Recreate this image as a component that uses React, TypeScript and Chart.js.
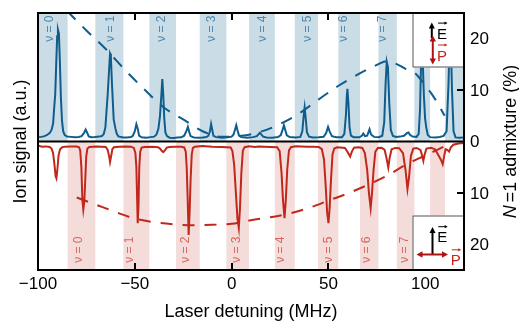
import React, { useEffect, useRef } from 'react';
import { Chart, registerables } from 'chart.js';

Chart.register(...registerables);

// ---------- data ----------
const xTicks = [-100, -50, 0, 50, 100];
const admTicks = [20, 10, 0, -10, -20];
// alternating band edges: even index -> blue band (top), odd -> pink band (bottom)
const bandEdges = [-100, -84.7, -70.4, -55.9, -42.5, -28.7, -16.5, -2.7, 9, 22.3, 32.6, 44.6, 55.1, 66.3, 75.8, 85.3, 94.4, 102.5, 110.2, 120];
const nuLabels = ['ν = 0', 'ν = 1', 'ν = 2', 'ν = 3', 'ν = 4', 'ν = 5', 'ν = 6', 'ν = 7'];
const topLabelX = [-93.8, -62.3, -36, -10.5, 16.2, 39.5, 58.1, 78.2];
const botLabelX = [-79, -52.5, -23.9, 2.4, 25.4, 50, 69.8, 89.6];

const topSpecX = [-100, -98.5, -97, -95.5, -94, -93, -92.2, -91.6, -91.1, -90.6, -90.1, -89.7, -89.2, -88.7, -88.2, -87.6, -87, -86.2, -85, -83, -81, -79, -77.5, -76.3, -75.4, -74.6, -73.8, -72.5, -70.5, -68.5, -67, -66, -65.2, -64.0, -62.8, -62.4, -61.8, -60.9, -60.0, -59.3, -58.5, -56, -54, -52, -51, -50, -49.2, -48.5, -47.8, -46.5, -44, -42, -40, -38.8, -37.8, -37, -36.3, -35.8, -35.3, -34.8, -34.2, -33.4, -32, -30, -28, -26, -24.5, -23.4, -22.6, -21.9, -21.2, -19.5, -17, -15, -13, -12, -11.2, -10.6, -10, -9.4, -8, -5, -2, 0, 1, 1.8, 2.4, 3.0, 3.8, 5, 8, 11, 13, 14, 14.6, 15.3, 16.3, 18, 21, 24, 25.4, 26.3, 27, 27.7, 28.5, 30, 33, 35.5, 36.5, 37.2, 37.7, 38.2, 38.9, 40, 42, 45, 47.5, 48.8, 49.8, 50.7, 51.8, 54, 57, 58.2, 59, 59.5, 59.8, 60.3, 60.9, 61.6, 63, 66, 67.2, 68, 68.9, 70, 71.2, 72, 73.5, 76, 77.8, 78.8, 79.5, 80.1, 80.7, 81.4, 82.2, 83.3, 85, 87, 89, 90.5, 91.3, 92.2, 93.5, 95.5, 96.6, 97.3, 97.8, 98.2, 98.7, 99.3, 99.9, 100.5, 101.3, 102.5, 105, 107.5, 109.5, 111, 112, 112.6, 113.2, 113.8, 114.6, 115.6, 117.5, 120];
const topSpecY = [3.4, 3.6, 4.0, 4.9, 6.5, 9.0, 14, 27, 37, 60, 82, 87, 84, 62, 35, 16, 8, 5, 3.8, 3.6, 3.3, 3.5, 4.2, 6.5, 9.3, 6.8, 4.0, 3.3, 3.5, 3.8, 4.2, 6.0, 11, 37, 68.5, 67, 45, 17, 10, 6, 4, 3.2, 3.1, 3.5, 4.5, 8, 13.5, 10, 4.5, 3.3, 3.0, 3.4, 3.8, 5.5, 10, 20, 36, 48.5, 36, 18, 7, 4.2, 3.0, 2.8, 3.1, 3.3, 4.5, 8, 11.4, 7.5, 4.2, 3.2, 3.0, 3.2, 3.5, 4.5, 8, 13.5, 9, 4.4, 3.4, 3.0, 3.3, 3.8, 5.5, 9.5, 12.7, 9, 4.6, 3.4, 3.0, 3.4, 4.2, 5.8, 6.8, 5.5, 3.8, 3.2, 3.0, 3.5, 5, 9, 12.7, 9, 4.8, 3.5, 3.2, 3.6, 8, 20, 26.5, 19, 7, 3.8, 3.1, 3.3, 3.7, 6.5, 11.4, 7.5, 4.2, 3.4, 3.3, 6, 20, 36, 41, 30, 11, 4.5, 3.4, 3.3, 4.5, 6.2, 4.2, 4.5, 9.5, 5.5, 3.6, 3.3, 4.5, 15, 45, 62, 58, 30, 9, 4.3, 3.5, 3.8, 4.5, 6.5, 7, 5, 3.8, 3.6, 6, 25, 60, 76, 62, 35, 18, 11, 5, 3.4, 3.2, 3.5, 4.4, 8, 45, 80, 78, 40, 8, 3.2, 3.0, 3.1];

const botSpecX = [-100, -98, -96, -94, -93, -92.2, -91.5, -90.9, -90.5, -90, -89.4, -88.6, -87.5, -86, -83, -80, -78.8, -78.2, -77.6, -77.1, -76.6, -76.1, -75.6, -75.1, -74.5, -73.5, -70, -67, -65, -64, -63.2, -62.8, -62.3, -61.6, -60.8, -58, -55, -52, -50.5, -49.7, -49.2, -48.8, -48.5, -48.1, -47.7, -47.2, -46.5, -45, -41, -38, -37, -36, -35.3, -34.5, -33.5, -32, -29, -26, -24.5, -23.7, -23.2, -22.7, -22.2, -21.7, -21.2, -20.6, -20, -19, -15, -10, -5, -0.5, 0.4, 1.3, 2.2, 3.0, 3.7, 4.3, 5.0, 5.8, 6.7, 9, 12, 14, 17, 20, 23.5, 24.8, 25.8, 26.5, 27.3, 28.0, 28.7, 29.6, 30.6, 33, 36, 39, 42, 45, 46.6, 47.7, 48.6, 49.3, 50, 50.6, 51.3, 52.1, 53, 54.5, 56, 58.5, 59.8, 61.2, 62.2, 63.2, 65.5, 67.5, 68.8, 70, 70.9, 71.8, 72.5, 73.3, 74.2, 75.5, 77.5, 79, 80, 80.9, 81.7, 82.6, 84.5, 86.5, 88.5, 89.8, 90.8, 91.6, 92.6, 93.8, 95.5, 97.5, 98.4, 99, 99.7, 100.6, 103, 105, 106.5, 108, 109, 109.8, 110.5, 111.3, 112.3, 113.2, 114.5, 117, 120];
const botSpecY = [-3.1, -4.0, -3.8, -4.3, -5.5, -9, -18, -27, -28.6, -22, -11, -6, -4.5, -4.0, -3.9, -3.9, -4.5, -7, -20, -45, -53, -47, -30, -12, -5.5, -4.2, -3.9, -4.0, -4.3, -6.5, -12, -16, -12, -6, -4.5, -4.0, -3.9, -4.0, -5, -9, -20, -45, -63.6, -50, -20, -8, -4.8, -4.2, -4.0, -4.5, -5.5, -7.5, -8.3, -7, -4.8, -4.2, -4.0, -4.1, -4.6, -8, -20, -45, -72.7, -55, -30, -10, -5, -4.0, -3.6, -4.0, -4.2, -4.6, -7.5, -18, -40, -60, -67.3, -52, -25, -7, -4.4, -3.7, -4.3, -3.9, -4.0, -4.2, -4.5, -7.5, -25, -45, -59.7, -45, -22, -7, -4.4, -3.7, -3.8, -4.1, -4.0, -4.3, -6, -14, -35, -55, -63.6, -52, -30, -10, -5.5, -4.5, -4.6, -5, -8, -11.7, -7.5, -4.8, -4.4, -5, -9, -22, -40, -51.9, -40, -22, -8, -5, -4.8, -6.5, -13, -20.2, -12, -6, -5, -5.2, -9, -22, -36.9, -28, -11, -5.5, -5, -6.5, -11, -15.1, -10, -5.5, -4.8, -6, -10, -14, -17.7, -11, -6, -6.5, -7.8, -4.5, -2.5, -1.6, -1.2];

const admTopX = [-85, -75, -65, -55, -45, -35, -25, -15, -5, 5, 15, 25, 35, 45, 55, 65, 75, 80, 85, 90, 95, 100, 105, 110];
const admTopY = [25.4, 21.6, 18, 13.9, 10.1, 6.6, 4.3, 2.0, 0.9, 1.1, 1.9, 3.4, 5.5, 8.2, 10.8, 13.0, 14.9, 15.6, 15.1, 14.1, 13.2, 10.9, 8.3, 5.0];
const admBotX = [-80, -70, -60, -50, -40, -30, -20, -10, 0, 10, 20, 30, 40, 50, 60, 70, 80, 90, 100, 110, 114];
const admBotY = [-10.9, -12.3, -13.7, -15.0, -15.7, -16.1, -16.3, -16.2, -16.0, -15.3, -14.75, -14.0, -12.9, -11.5, -10.1, -8.5, -6.7, -4.5, -2.7, -0.9, 0];

// ---------- styles ----------
const BLUE = '#0f5d8c';
const RED = '#c0281c';
const BLUE_BAND = '#cadde7';
const PINK_BAND = '#f4dcdb';
const BLUE_TEXT = '#4f86a9';
const RED_TEXT = '#d9665c';
const DARK_RED = '#b01212';
const FONT = '"Liberation Sans", Arial, Helvetica, sans-serif';

const pts = (xs: number[], ys: number[]) => xs.map((x, i) => ({ x, y: ys[i] }));

function arrowHead(ctx: CanvasRenderingContext2D, x: number, y: number, ang: number, len: number, w: number) {
  ctx.beginPath();
  ctx.moveTo(x, y);
  ctx.lineTo(x - len * Math.cos(ang) + w * Math.sin(ang), y - len * Math.sin(ang) - w * Math.cos(ang));
  ctx.lineTo(x - len * Math.cos(ang) - w * Math.sin(ang), y - len * Math.sin(ang) + w * Math.cos(ang));
  ctx.closePath();
  ctx.fill();
}

function arrow(ctx: CanvasRenderingContext2D, x1: number, y1: number, x2: number, y2: number, both: boolean, color: string, lw: number, len: number, w: number) {
  const ang = Math.atan2(y2 - y1, x2 - x1);
  ctx.strokeStyle = color;
  ctx.fillStyle = color;
  ctx.lineWidth = lw;
  ctx.beginPath();
  const sx = both ? x1 + (len - 1) * Math.cos(ang) : x1;
  const sy = both ? y1 + (len - 1) * Math.sin(ang) : y1;
  ctx.moveTo(sx, sy);
  ctx.lineTo(x2 - (len - 1) * Math.cos(ang), y2 - (len - 1) * Math.sin(ang));
  ctx.stroke();
  arrowHead(ctx, x2, y2, ang, len, w);
  if (both) arrowHead(ctx, x1, y1, ang + Math.PI, len, w);
}

function vecLetter(ctx: CanvasRenderingContext2D, letter: string, x: number, base: number, color: string) {
  ctx.font = `15px ${FONT}`;
  ctx.fillStyle = color;
  ctx.textAlign = 'left';
  ctx.textBaseline = 'alphabetic';
  ctx.fillText(letter, x, base);
  const w = ctx.measureText(letter).width;
  arrow(ctx, x + 1, base - 15.5, x + w + 0.5, base - 15.5, false, color, 1, 3, 1.6);
}

const decor = {
  id: 'decor',
  beforeDatasetsDraw(chart: any) {
    const { ctx, chartArea: a, scales } = chart;
    const xs = scales.x;
    const mid = scales.adm.getPixelForValue(0);
    ctx.save();
    for (let i = 0; i < bandEdges.length - 1; i++) {
      const x0 = xs.getPixelForValue(bandEdges[i]);
      const x1 = xs.getPixelForValue(bandEdges[i + 1]);
      if (i % 2 === 0) {
        ctx.fillStyle = BLUE_BAND;
        ctx.fillRect(x0, a.top, x1 - x0, mid - a.top);
      } else {
        ctx.fillStyle = PINK_BAND;
        ctx.fillRect(x0, mid, x1 - x0, a.bottom - mid);
      }
    }
    ctx.font = `12px ${FONT}`;
    ctx.textAlign = 'right';
    ctx.textBaseline = 'middle';
    topLabelX.forEach((v, i) => {
      ctx.save();
      ctx.translate(xs.getPixelForValue(v), a.top + 2.5);
      ctx.rotate(-Math.PI / 2);
      ctx.fillStyle = BLUE_TEXT;
      ctx.fillText(nuLabels[i], 0, 0);
      ctx.restore();
    });
    botLabelX.forEach((v, i) => {
      ctx.save();
      ctx.translate(xs.getPixelForValue(v), a.bottom - 33.5);
      ctx.rotate(-Math.PI / 2);
      ctx.fillStyle = RED_TEXT;
      ctx.fillText(nuLabels[i], 0, 0);
      ctx.restore();
    });
    ctx.restore();
  },
  afterDatasetsDraw(chart: any) {
    const { ctx, chartArea: a, scales } = chart;
    const xs = scales.x;
    const ys = scales.adm;
    const mid = ys.getPixelForValue(0);
    ctx.save();
    // ticks
    ctx.strokeStyle = '#000';
    ctx.lineWidth = 2;
    ctx.beginPath();
    xTicks.forEach((t) => {
      if (t <= -100) return;
      const px = Math.round(xs.getPixelForValue(t));
      ctx.moveTo(px, a.top);
      ctx.lineTo(px, a.top + 7);
      ctx.moveTo(px, a.bottom);
      ctx.lineTo(px, a.bottom - 7);
    });
    admTicks.forEach((t) => {
      if (t === 0) return;
      const py = Math.round(ys.getPixelForValue(t));
      ctx.moveTo(a.right, py);
      ctx.lineTo(a.right - 7, py);
    });
    ctx.stroke();

    // legend boxes
    const boxW = 51.5;
    const boxH = 54.5;
    const L1 = a.right - boxW;
    const T1 = a.top;
    const L2 = a.right - boxW;
    const T2 = a.bottom - boxH;
    ctx.fillStyle = '#fff';
    ctx.strokeStyle = '#555';
    ctx.lineWidth = 1;
    ctx.fillRect(L1, T1, boxW, boxH);
    ctx.strokeRect(L1 + 0.5, T1 + 0.5, boxW, boxH - 1);
    ctx.fillRect(L2, T2, boxW, boxH);
    ctx.strokeRect(L2 + 0.5, T2 + 0.5, boxW, boxH - 1);

    // top box: E up, P vertical
    arrow(ctx, L1 + 19.3, T1 + 25, L1 + 19.3, T1 + 9.5, false, '#000', 2, 6, 3);
    arrow(ctx, L1 + 20.3, T1 + 22.5, L1 + 20.3, T1 + 51.5, true, DARK_RED, 2, 6, 3.2);
    vecLetter(ctx, 'E', L1 + 24.5, T1 + 25.6, '#000');
    vecLetter(ctx, 'P', L1 + 24.5, T1 + 47.5, RED);

    // bottom box: E up, P horizontal
    arrow(ctx, L2 + 20, T2 + 39, L2 + 20, T2 + 11.5, false, '#000', 2, 6, 3);
    arrow(ctx, L2 + 4, T2 + 39, L2 + 35.5, T2 + 39, true, DARK_RED, 2, 6, 3.2);
    vecLetter(ctx, 'E', L2 + 24.7, T2 + 26.7, '#000');
    vecLetter(ctx, 'P', L2 + 38.2, T2 + 49.8, RED);

    // frame + middle line
    ctx.strokeStyle = '#000';
    ctx.lineWidth = 2;
    ctx.strokeRect(a.left, a.top, a.right - a.left, a.bottom - a.top);
    ctx.beginPath();
    ctx.moveTo(a.left, mid);
    ctx.lineTo(a.right, mid);
    ctx.stroke();

    // tick labels
    ctx.fillStyle = '#000';
    ctx.font = `17px ${FONT}`;
    ctx.textAlign = 'center';
    ctx.textBaseline = 'alphabetic';
    xTicks.forEach((t) => {
      const lbl = t < 0 ? '\u2212' + Math.abs(t) : String(t);
      ctx.fillText(lbl, xs.getPixelForValue(t), a.bottom + 19);
    });
    ctx.textAlign = 'left';
    ctx.textBaseline = 'middle';
    admTicks.forEach((t) => {
      ctx.fillText(String(Math.abs(t)), a.right + 6, ys.getPixelForValue(t) + 1);
    });

    // axis titles
    ctx.font = `18px ${FONT}`;
    ctx.textAlign = 'center';
    ctx.textBaseline = 'alphabetic';
    ctx.fillText('Laser detuning (MHz)', (a.left + a.right) / 2, a.bottom + 47);

    const cy = (a.top + a.bottom) / 2;
    ctx.save();
    ctx.translate(25.6, cy);
    ctx.rotate(-Math.PI / 2);
    ctx.fillText('Ion signal (a.u.)', 0, 0);
    ctx.restore();

    ctx.save();
    ctx.translate(515.5, cy);
    ctx.rotate(-Math.PI / 2);
    ctx.font = `italic 18px ${FONT}`;
    const wN = ctx.measureText('N').width;
    ctx.font = `18px ${FONT}`;
    const rest = '=1 admixture (%)';
    const wR = ctx.measureText(rest).width;
    const gap = 3;
    const total = wN + gap + wR;
    ctx.textAlign = 'left';
    ctx.font = `italic 18px ${FONT}`;
    ctx.fillText('N', -total / 2, 0);
    ctx.font = `18px ${FONT}`;
    ctx.fillText(rest, -total / 2 + wN + gap, 0);
    ctx.restore();

    ctx.restore();
  },
};

export default function App() {
  const ref = useRef<HTMLCanvasElement | null>(null);
  useEffect(() => {
    if (!ref.current) return;
    const chart = new Chart(ref.current, {
      type: 'line',
      data: {
        datasets: [
          {
            label: 'admixture top',
            data: pts(admTopX, admTopY),
            yAxisID: 'adm',
            borderColor: BLUE,
            borderWidth: 2,
            borderDash: [12, 10],
            pointRadius: 0,
            cubicInterpolationMode: 'monotone',
            fill: false,
          },
          {
            label: 'admixture bottom',
            data: pts(admBotX, admBotY),
            yAxisID: 'adm',
            borderColor: RED,
            borderWidth: 2,
            borderDash: [12, 10],
            pointRadius: 0,
            cubicInterpolationMode: 'monotone',
            fill: false,
          },
          {
            label: 'ion signal top',
            data: pts(topSpecX, topSpecY),
            yAxisID: 'sig',
            borderColor: BLUE,
            borderWidth: 2,
            pointRadius: 0,
            tension: 0,
            fill: false,
          },
          {
            label: 'ion signal bottom',
            data: pts(botSpecX, botSpecY),
            yAxisID: 'sig',
            borderColor: RED,
            borderWidth: 2,
            pointRadius: 0,
            tension: 0,
            fill: false,
          },
        ],
      },
      options: {
        responsive: false,
        animation: false,
        devicePixelRatio: 1,
        layout: { padding: { left: 38, right: 55, top: 13, bottom: 51 } },
        plugins: { legend: { display: false }, tooltip: { enabled: false } },
        scales: {
          x: { type: 'linear', min: -100, max: 120, display: false },
          sig: { type: 'linear', min: -100, max: 100, display: false },
          adm: { type: 'linear', min: -25, max: 25, display: false },
        },
      },
      plugins: [decor],
    } as any);
    return () => chart.destroy();
  }, []);
  return (
    <div style={{ position: 'fixed', left: 0, top: 0, width: 519, height: 321, background: '#fff' }}>
      <canvas ref={ref} width={519} height={321} style={{ width: 519, height: 321, display: 'block' }} />
    </div>
  );
}
